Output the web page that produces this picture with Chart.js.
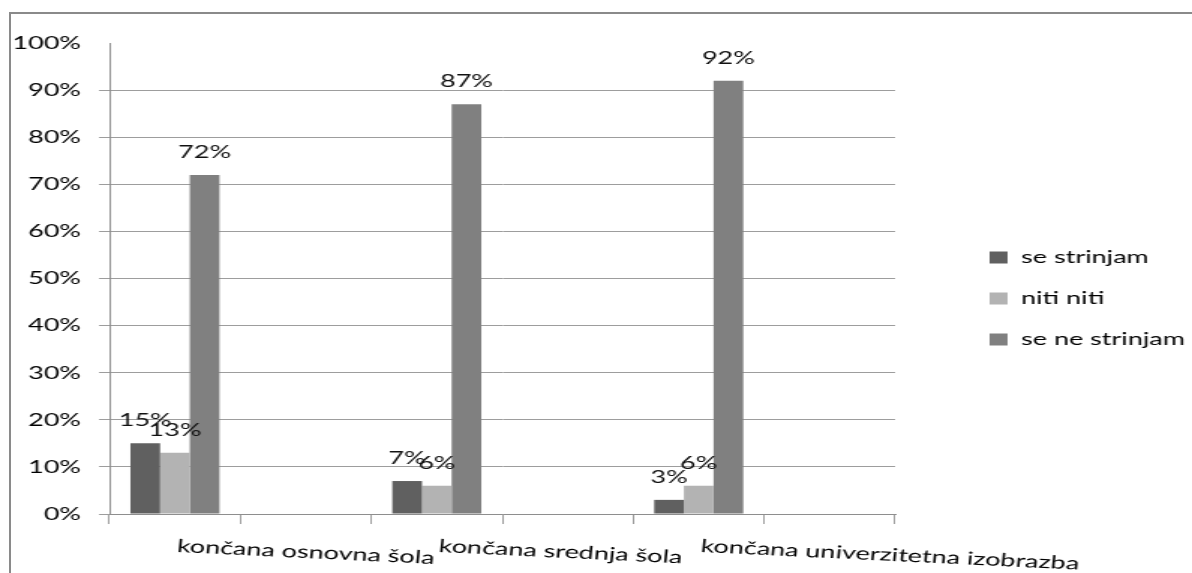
<!DOCTYPE html>
<html>
<head>
<meta charset="utf-8">
<title>Stališče glede na izobrazbo</title>
<script src="https://cdn.jsdelivr.net/npm/chart.js@4.4.1/dist/chart.umd.min.js"></script>
<style>
  html, body { margin: 0; padding: 0; background: #fff; overflow: hidden; }
  /* outer frame of the original picture (only top and left edge are visible) */
  #frame { position: absolute; left: 9px; top: 12px; width: 1300px; height: 700px; border: 2px solid #8a8a8a; pointer-events: none; }
  #chart { position: absolute; left: 0; top: 0; }
</style>
</head>
<body>
<!-- drawn at 795 wide and shown at 1192: the original is stretched sideways -->
<canvas id="chart" width="795" height="573" style="width:1192px;height:573px"></canvas>
<div id="frame"></div>
<script>
// data
const categories = ["končana osnovna šola", "končana srednja šola", "končana univerzitetna izobrazba"];
const seriesNames = ["se strinjam", "niti niti", "se ne strinjam"];
const seStrinjam = [15, 7, 3];
const nitiNiti = [13, 6, 6];
const seNeStrinjam = [72, 87, 92];
const yTicks = [0, 10, 20, 30, 40, 50, 60, 70, 80, 90, 100];

const colors = ["#606060", "#b3b3b3", "#808080"];
const gridColor = "#9d9d9d";
const axisColor = "#8e8e8e";

// every category has its bars in one slot and an empty slot after it
const slotLabels = categories.flatMap((c) => [c, ""]);
const toSlots = (arr) => arr.flatMap((v) => [v, null]);

Chart.defaults.font.family = "Lato";
Chart.defaults.font.size = 18;
Chart.defaults.color = "#000";

// value above each bar
const barValues = {
  id: "barValues",
  afterDatasetsDraw(chart) {
    const { ctx } = chart;
    ctx.save();
    ctx.font = "18px Lato";
    ctx.fillStyle = "#111";
    ctx.textAlign = "center";
    ctx.textBaseline = "alphabetic";
    chart.data.datasets.forEach((ds, i) => {
      chart.getDatasetMeta(i).data.forEach((bar, j) => {
        if (ds.data[j] == null) return;
        ctx.fillText(ds.data[j] + "%", bar.x, bar.y - 17);
      });
    });
    ctx.restore();
  },
};

// category names, slightly slanted, starting under the bar group
const slantedLabels = {
  id: "slantedLabels",
  afterDraw(chart) {
    const { ctx } = chart;
    const x = chart.scales.x;
    ctx.save();
    ctx.font = "18px Lato";
    ctx.fillStyle = "#000";
    ctx.textAlign = "left";
    ctx.textBaseline = "alphabetic";
    slotLabels.forEach((label, i) => {
      if (!label) return;
      ctx.save();
      ctx.translate(x.getPixelForValue(i) + 1, x.top + 38);
      ctx.rotate((4 * Math.PI) / 180);
      ctx.fillText(label, 0, 0);
      ctx.restore();
    });
    ctx.restore();
  },
};

// move legend a bit away from the plot and down (widen its box so text is not cut)
const legendNudge = {
  id: "legendNudge",
  afterUpdate(chart) {
    const lg = chart.legend;
    lg.left += 40;
    lg.right += 90;
    lg.top += 20;
    lg.bottom += 20;
  },
};

new Chart(document.getElementById("chart"), {
  type: "bar",
  data: {
    labels: slotLabels,
    datasets: [
      { label: seriesNames[0], data: toSlots(seStrinjam), backgroundColor: colors[0] },
      { label: seriesNames[1], data: toSlots(nitiNiti), backgroundColor: colors[1] },
      { label: seriesNames[2], data: toSlots(seNeStrinjam), backgroundColor: colors[2] },
    ],
  },
  options: {
    responsive: false,
    animation: false,
    layout: { padding: { top: 43, left: 0, right: 58, bottom: 0 } },
    datasets: {
      bar: { categoryPercentage: 0.68, barPercentage: 1, borderWidth: 0 },
    },
    scales: {
      x: {
        grid: { drawOnChartArea: false, drawTicks: true, tickLength: 10, color: gridColor, offset: true },
        border: { color: axisColor },
        ticks: { display: false },
        afterFit: (s) => { s.height = 59; },
      },
      y: {
        min: 0,
        max: 100,
        afterBuildTicks: (s) => { s.ticks = yTicks.map((v) => ({ value: v })); },
        grid: {
          color: (c) => (c.tick && c.tick.value === 100 ? "rgba(0,0,0,0)" : gridColor),
          tickLength: 7,
        },
        border: { color: axisColor },
        ticks: { padding: 12, color: "#000", callback: (v) => v + "%" },
        afterFit: (s) => { s.width = 73; },
      },
    },
    plugins: {
      legend: {
        position: "right",
        fullSize: false,
        maxWidth: 140,
        labels: { boxWidth: 12, boxHeight: 12, padding: 23, color: "#000" },
      },
      tooltip: { enabled: false },
    },
  },
  plugins: [barValues, slantedLabels, legendNudge],
});
</script>
</body>
</html>
